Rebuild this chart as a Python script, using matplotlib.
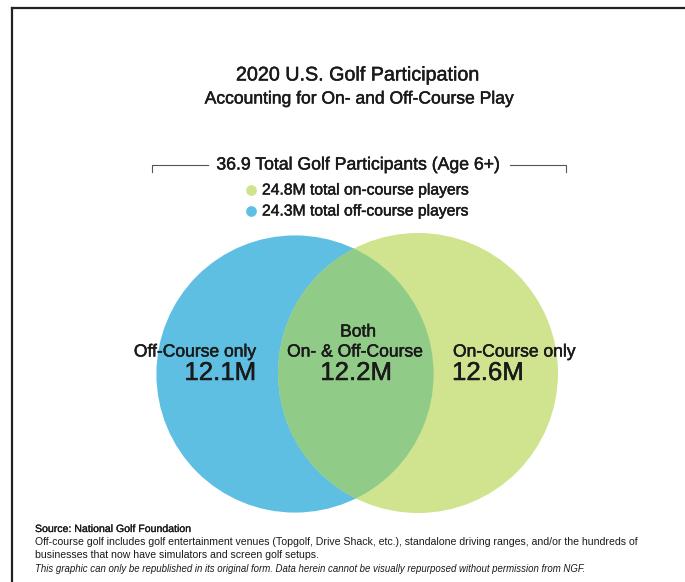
import matplotlib
matplotlib.use("Agg")
from matplotlib import pyplot as plt
from matplotlib import patheffects
from matplotlib.patches import Circle

plt.rcParams['font.family'] = ['Liberation Sans', 'DejaVu Sans']
plt.rcParams['text.color'] = '#1a1a1a'

# participation segments, millions of players
segments = ['Off-Course only', 'Both', 'On- & Off-Course', 'On-Course only']
segment_values = [12.1, 12.2, 12.6]
off_course_total = segment_values[0] + segment_values[1]
on_course_total = segment_values[1] + segment_values[2]
grand_total = sum(segment_values)

BLUE = '#5ebfe3'
GREEN = '#d0e490'
OVERLAP = '#90cb88'

# a thin outline gives the lettering a medium weight
medium = [patheffects.withStroke(linewidth=0.35, foreground='#1a1a1a')]

fig = plt.figure(figsize=(6.85, 5.82), dpi=100)
ax = fig.add_axes([0, 0, 1, 1])
ax.set_xlim(0, 685)
ax.set_ylim(582, 0)
ax.axis('off')

# frame: top and left rules only
ax.plot([12, 685], [8, 8], color='#222222', lw=1.6)
ax.plot([12, 12], [8, 582], color='#222222', lw=1.6)

ax.text(358, 75, '2020 U.S. Golf Participation', ha='center', va='center', fontsize=14.2,
        path_effects=medium)
ax.text(359, 99, 'Accounting for On- and Off-Course Play', ha='center', va='center', fontsize=12.6,
        path_effects=medium)

ax.text(358, 165, f'{grand_total:.1f} Total Golf Participants (Age 6+)',
        ha='center', va='center', fontsize=12.7, path_effects=medium)
ax.plot([152, 152, 208], [172, 165, 165], color='#555555', lw=0.8)
ax.plot([510, 566, 566], [165, 165, 172], color='#555555', lw=0.8)

ax.scatter([251], [190], s=45, color=GREEN, zorder=3)
ax.text(262, 190, f'{on_course_total:.1f}M total on-course players', va='center', fontsize=11.3,
        path_effects=medium)
ax.scatter([251], [211], s=45, color=BLUE, zorder=3)
ax.text(262, 211, f'{off_course_total:.1f}M total off-course players', va='center', fontsize=11.3,
        path_effects=medium)

# circle area follows each group's total
k = 140 / on_course_total ** 0.5
r_off = k * off_course_total ** 0.5
r_on = k * on_course_total ** 0.5
c_off = (295, 374)
c_on = (418, 373)

ax.add_patch(Circle(c_off, r_off, color=BLUE, lw=0, zorder=1))
ax.add_patch(Circle(c_on, r_on, color=GREEN, lw=0, zorder=1))
clip = Circle(c_off, r_off, transform=ax.transData)
lens = Circle(c_on, r_on, color=OVERLAP, lw=0, zorder=2)
ax.add_patch(lens)
lens.set_clip_path(clip)

label_kw = dict(va='center', fontsize=12.6, zorder=4, path_effects=medium)
value_kw = dict(va='center', fontsize=18.6, zorder=4, path_effects=medium)
ax.text(256, 352, segments[0], ha='right', **label_kw)
ax.text(256, 373, f'{segment_values[0]:.1f}M', ha='right', **value_kw)
ax.text(358, 332, segments[1], ha='center', **label_kw)
ax.text(355, 352, segments[2], ha='center', **label_kw)
ax.text(356, 373, f'{segment_values[1]:.1f}M', ha='center', **value_kw)
ax.text(453, 352, segments[3], ha='left', **label_kw)
ax.text(452, 373, f'{segment_values[2]:.1f}M', ha='left', **value_kw)

ax.text(35, 529, 'Source: National Golf Foundation', va='center', fontsize=7.6,
        path_effects=[patheffects.withStroke(linewidth=0.2, foreground='#1a1a1a')])
ax.text(35, 542, 'Off-course golf includes golf entertainment venues (Topgolf, Drive Shack, etc.), '
        'standalone driving ranges, and/or the hundreds of', va='center', fontsize=7.6)
ax.text(35, 555, 'businesses that now have simulators and screen golf setups.', va='center', fontsize=7.6)
ax.text(35, 569, 'This graphic can only be republished in its original form. Data herein cannot be '
        'visually repurposed without permission from NGF.', va='center', fontsize=6.9, style='italic')

fig.savefig('out.png', dpi=100)
